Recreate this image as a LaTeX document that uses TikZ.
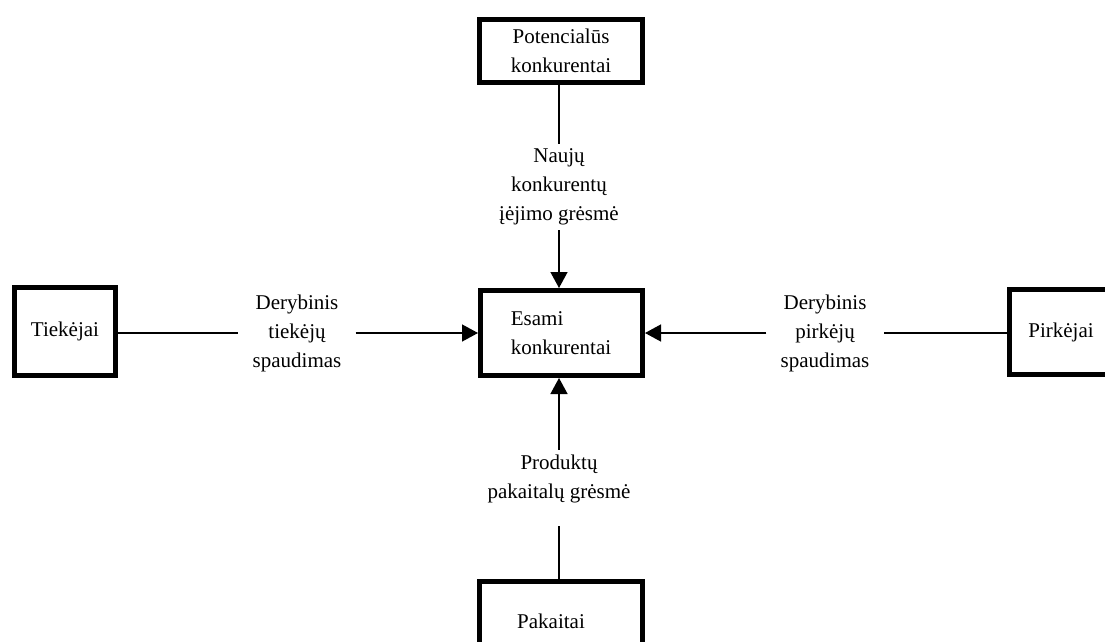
\documentclass[tikz,border=0pt]{standalone}
\usepackage{fontspec}
\setmainfont{Liberation Serif}
\usetikzlibrary{arrows.meta}
\begin{document}
\begin{tikzpicture}[x=1pt,y=-1pt,
  every node/.style={font=\fontsize{21}{29}\selectfont},
  force/.style={draw, line width=5pt, inner sep=0pt},
  lbl/.style={align=center, inner xsep=14pt, inner ysep=5pt},
  conn/.style={line width=1.4pt},
  push/.style={conn, -{Triangle[length=16pt,width=17pt]}}]
\useasboundingbox (0,0) rectangle (1105,642);

% the five forces
\node[force, minimum width=163pt, minimum height=63pt, align=center] (pk) at (561,51) {Potencialūs\\konkurentai};
\node[force, minimum width=162pt, minimum height=85pt] (ek) at (561.5,333) {};
\node[align=left] (ektext) at (561,333) {Esami\\konkurentai};
\node[force, minimum width=101pt, minimum height=88pt] (t) at (65,331.5) {Tiekėjai};
\node[force, minimum width=110pt, minimum height=85pt] (p) at (1064.5,332) {};
\node (ptext) at (1061,332) {Pirkėjai};
\node[force, minimum width=163pt, minimum height=100pt] (pa) at (561,631.5) {};
\node (patext) at (551,621) {Pakaitai};

% pressure labels
\node[lbl] (ltop) at (559,187) {Naujų\\konkurentų\\įėjimo grėsmė};
\node[lbl] (lleft) at (297,333) {Derybinis\\tiekėjų\\spaudimas};
\node[lbl] (lright) at (825,333) {Derybinis\\pirkėjų\\spaudimas};
\node[lbl] (lbot) at (559,479) {Produktų\\pakaitalų grėsmė};

% connectors
\draw[conn] (pk.south -| ltop) -- (ltop.north);
\draw[push] (ltop.south) -- (ltop.south |- ek.north);
\draw[conn] (t.east |- lleft) -- (lleft.west);
\draw[push] (lleft.east) -- (ek.west |- lleft);
\draw[conn] (p.west |- lright) -- (lright.east);
\draw[push] (lright.west) -- (ek.east |- lright);
\draw[conn, shorten >=18pt] (pa.north -| lbot) -- (lbot.south);
\draw[push] (lbot.north) -- (lbot.north |- ek.south);
\end{tikzpicture}
\end{document}
